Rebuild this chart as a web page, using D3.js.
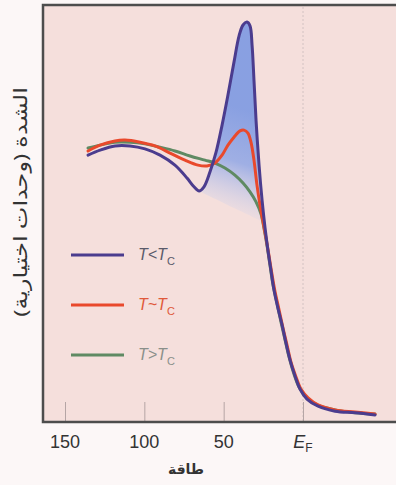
<!DOCTYPE html>
<html>
<head>
<meta charset="utf-8">
<script src="https://cdn.jsdelivr.net/npm/d3@7"></script>
<style>
html,body{margin:0;padding:0;background:#fcf7f7;}
svg{display:block;}
</style>
</head>
<body>
<svg id="chart" width="396" height="485"></svg>
<script>
// ---- data (energy in meV below E_F, intensity in arbitrary units) ----
const purpleE = [135.5,127.9,118.5,109.0,99.6,90.1,80.7,73.1,68.7,65.5,62.4,58.6,54.8,51.0,47.3,43.5,40.3,37.8,35.3,33.4,32.1,30.9,29.6,27.7,25.8,23.9,22.1,20.2,18.3,15.8,13.2,10.7,8.2,5.0,1.9,-2.5,-9.5,-20.2,-32.8,-45.4];
const purpleI = [64.0,65.2,66.2,66.2,65.5,64.0,61.6,58.5,56.4,55.4,56.4,60.0,64.7,71.2,78.4,86.3,92.6,95.2,95.9,95.0,90.4,82.0,72.4,61.6,53.2,46.5,41.2,36.4,31.7,27.3,23.3,18.9,14.9,11.0,7.9,5.5,3.8,2.6,2.2,1.7];

const redE = [135.5,127.9,118.5,112.2,102.7,93.3,83.8,74.4,66.2,60.5,55.5,51.0,47.3,43.5,39.7,37.2,34.7,32.8,30.9,29.0,27.1,25.2,23.3,21.4,19.5,17.6,15.1,12.6,10.1,7.6,4.4,1.3,-3.2,-9.5,-20.2,-32.8,-45.4];
const redI = [65.0,66.4,67.4,67.6,67.1,66.2,64.5,62.8,61.6,61.4,62.1,64.0,66.4,68.3,69.8,70.0,69.3,67.1,62.8,56.8,52.0,48.0,44.1,39.8,35.3,31.2,26.9,22.5,18.5,14.4,10.8,7.9,5.8,4.1,2.9,2.4,1.9];

const greenE = [135.5,127.9,118.5,109.0,99.6,90.1,80.7,71.2,61.8,55.5,49.2,42.9,37.8,33.4,29.6,26.5,24.6,22.7,20.8,18.9,16.4,13.9,11.3,8.8,5.7,2.5,-1.9,-8.8,-20.2,-32.8,-45.4];
const greenI = [65.7,66.4,67.1,67.1,66.7,65.9,65.0,63.8,62.8,62.1,60.9,59.2,57.3,55.2,52.8,49.9,46.5,42.4,37.6,32.9,28.5,24.0,19.7,15.6,11.5,8.4,6.0,4.1,2.9,2.2,1.9];

// shaded gap region (top = T<Tc curve, base = lower edge of the shading)
const shadeE    = [65.5,62.4,58.6,54.8,51.0,47.3,43.5,40.3,37.8,35.3,33.4,32.1,30.9,29.6,27.7,25.8,24.6];
const shadeTop  = [55.4,56.4,60.0,64.7,71.2,78.4,86.3,92.6,95.2,95.9,95.0,90.4,82.0,72.4,61.6,53.2,48.0];
const shadeBase = [55.4,54.8,54.1,53.4,52.7,52.0,51.3,50.7,50.3,49.8,49.5,49.2,49.0,48.8,48.4,48.1,48.0];

const tickValues = [150, 100, 50, 0];
const tickLabels = ["150", "100", "50", "E_F"];
const legendItems = [
  {rel: "<", sub: "C"},
  {rel: "~", sub: "C"},
  {rel: ">", sub: "C"}
];
const xTitle = "طاقة";
const yTitle = "الشدة (وحدات اختيارية)";

// ---- drawing ----
(function () {
const svg = d3.select("#chart");
const W = 396;
const pLeft = 43, pTop = 5, pBottom = 422;

const x = d3.scaleLinear().domain([150, 0]).range([65, 303]);
const y = d3.scaleLinear().domain([0, 100]).range([422, 5]);

const colors = ["#4b3c8e", "#e9492c", "#5f8a63"];
const labelColors = ["#5a5a6a", "#e0593a", "#8a8f8a"];

const defs = svg.append("defs");
const grad = defs.append("linearGradient").attr("id", "shadeGrad")
  .attr("gradientUnits", "userSpaceOnUse")
  .attr("x1", 245).attr("y1", 110).attr("x2", 212).attr("y2", 208);
grad.append("stop").attr("offset", 0).attr("stop-color", "#7d99e2").attr("stop-opacity", 0.9);
grad.append("stop").attr("offset", 0.5).attr("stop-color", "#8aa3e6").attr("stop-opacity", 0.8);
grad.append("stop").attr("offset", 1).attr("stop-color", "#c3cff2").attr("stop-opacity", 0.1);

// plot background
svg.append("rect").attr("x", pLeft).attr("y", pTop).attr("width", W - pLeft).attr("height", pBottom - pTop)
  .attr("fill", "#f5dfdc");

// E_F dotted guide
svg.append("line").attr("x1", x(0)).attr("x2", x(0)).attr("y1", pTop + 2).attr("y2", pBottom)
  .attr("stroke", "#d2c2c2").attr("stroke-width", 1).attr("stroke-dasharray", "2,2");

// inner tick marks
const xAxis = d3.axisBottom(x).tickValues(tickValues).tickSize(-20).tickFormat("");
const axG = svg.append("g").attr("transform", `translate(0,${pBottom})`).call(xAxis);
axG.select(".domain").remove();
axG.selectAll(".tick line").attr("stroke", "#b5a5a5").attr("stroke-width", 1);

// shading
const shadeData = shadeE.map((e, i) => ({e, t: shadeTop[i], b: shadeBase[i]}));
svg.append("path").datum(shadeData)
  .attr("d", d3.area().x(d => x(d.e)).y0(d => y(d.b)).y1(d => y(d.t)).curve(d3.curveMonotoneX))
  .attr("fill", "url(#shadeGrad)");

// curves
const line = d3.line().x(d => x(d[0])).y(d => y(d[1])).curve(d3.curveCatmullRom.alpha(0.5));
const series = [
  {E: greenE, I: greenI, c: colors[2]},
  {E: redE, I: redI, c: colors[1]},
  {E: purpleE, I: purpleI, c: colors[0]}
];
series.forEach(s => {
  svg.append("path").datum(s.E.map((e, i) => [e, s.I[i]]))
    .attr("d", line).attr("fill", "none").attr("stroke", s.c)
    .attr("stroke-width", 3).attr("stroke-linejoin", "round").attr("stroke-linecap", "round");
});

// frame
svg.append("path")
  .attr("d", `M${W},${pTop} H${pLeft} V${pBottom} H${W}`)
  .attr("fill", "none").attr("stroke", "#4d4d4d").attr("stroke-width", 2.5);

// tick labels
tickValues.forEach((v, i) => {
  const t = svg.append("text").attr("x", x(v)).attr("y", 448)
    .attr("text-anchor", "middle").attr("font-family", "Liberation Sans, Arial, sans-serif")
    .attr("font-size", 18).attr("fill", "#333");
  if (tickLabels[i] === "E_F") {
    t.append("tspan").attr("font-style", "italic").text("E");
    t.append("tspan").attr("font-size", 12).attr("dy", 4).text("F");
  } else {
    t.text(tickLabels[i]);
  }
});

// axis titles
svg.append("text").attr("x", 186).attr("y", 474).attr("text-anchor", "middle")
  .attr("font-family", "Noto Sans, DejaVu Sans, sans-serif").attr("font-size", 14)
  .attr("font-weight", "bold").attr("fill", "#333").attr("direction", "rtl").text(xTitle);

svg.append("text").attr("transform", "translate(27,202) rotate(-90) scale(1.26,1)")
  .attr("text-anchor", "middle").attr("font-family", "Noto Sans, DejaVu Sans, sans-serif")
  .attr("font-size", 19).attr("fill", "#333").attr("direction", "rtl")
  .text(yTitle);

// legend
const legendY = [255, 305, 355];
legendItems.forEach((it, i) => {
  svg.append("line").attr("x1", 71).attr("x2", 124).attr("y1", legendY[i]).attr("y2", legendY[i])
    .attr("stroke", colors[i]).attr("stroke-width", 3);
  const t = svg.append("text").attr("x", 138).attr("y", legendY[i] + 5)
    .attr("font-family", "Liberation Sans, Arial, sans-serif").attr("font-size", 16)
    .attr("fill", labelColors[i]);
  t.append("tspan").attr("font-style", "italic").text("T" + it.rel + "T");
  t.append("tspan").attr("font-size", 11).attr("dy", 5).text(it.sub);
});
})();
</script>
</body>
</html>
